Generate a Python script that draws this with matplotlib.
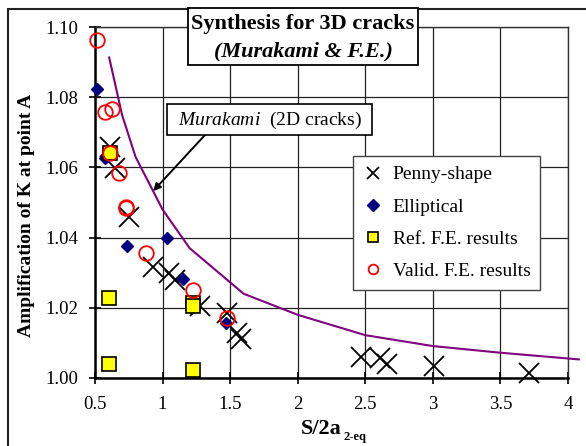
import numpy as np
import matplotlib
matplotlib.use("Agg")
import matplotlib.pyplot as plt
from matplotlib.patches import Rectangle
from matplotlib.lines import Line2D

plt.rcParams['font.family'] = ['Liberation Serif', 'DejaVu Serif']
plt.rcParams['mathtext.fontset'] = 'custom'
plt.rcParams['mathtext.rm'] = 'Liberation Serif'
plt.rcParams['mathtext.it'] = 'Liberation Serif:italic'
plt.rcParams['mathtext.bf'] = 'Liberation Serif:bold'

# Penny-shape cracks
penny_x = [0.61, 0.65, 0.75, 0.93, 1.045, 1.095, 1.28, 1.48, 1.55, 1.58,
           2.47, 2.61, 2.66, 3.01, 3.71]
penny_y = [1.0658, 1.0598, 1.046, 1.0315, 1.0298, 1.028, 1.0204, 1.0184, 1.0128, 1.0112,
           1.0061, 1.0056, 1.004, 1.0034, 1.0015]

# Elliptical cracks
ellip_x = [0.512, 0.574, 0.74, 1.032, 1.152, 1.471]
ellip_y = [1.0822, 1.0626, 1.0377, 1.0398, 1.0281, 1.0156]

# Reference F.E. results
ref_x = [0.611, 0.606, 0.606, 1.226, 1.226, 1.226]
ref_y = [1.064, 1.0227, 1.0039, 1.0215, 1.0205, 1.0023]

# Validation F.E. results
valid_x = [0.517, 0.574, 0.629, 0.611, 0.678, 0.73, 0.733, 0.879, 1.226, 1.478]
valid_y = [1.0963, 1.0759, 1.0765, 1.064, 1.0585, 1.0483, 1.0488, 1.0355, 1.0252, 1.0172]

# Murakami 2D solution
mur_x = [0.605, 0.7, 0.8, 1.0, 1.2, 1.6, 2.0, 2.5, 3.0, 3.5, 4.08]
mur_y = [1.0913, 1.075, 1.063, 1.048, 1.037, 1.024, 1.018, 1.0122, 1.0091, 1.0072, 1.0053]

xticks = [0.5, 1, 1.5, 2, 2.5, 3, 3.5, 4]
xtick_labels = ['0.5', '1', '1.5', '2', '2.5', '3', '3.5', '4']
yticks = [1.00, 1.02, 1.04, 1.06, 1.08, 1.10]

W, H = 586, 446
fig = plt.figure(figsize=(W / 100, H / 100), dpi=100)
ax = fig.add_axes([95 / W, 68 / H, 473 / W, 351 / H])


def px(x, y):
    # figure pixel (from top-left) -> figure fraction
    return x / W, 1 - y / H


ax.plot(mur_x, mur_y, color='#800080', lw=1.5, clip_on=False, zorder=3)
ax.plot(penny_x, penny_y, ls='none', marker='x', ms=14, mew=1.3, color='black',
        clip_on=False, zorder=4)
ax.plot(ellip_x, ellip_y, ls='none', marker='D', ms=6.5, color='#000080',
        clip_on=False, zorder=5)
ax.plot(ref_x, ref_y, ls='none', marker='s', ms=10, mfc='#ffff00', mec='black', mew=1.2,
        clip_on=False, zorder=6)
ax.plot(valid_x, valid_y, ls='none', marker='o', ms=10.5, mfc='none', mec='#ff0000', mew=1.3,
        clip_on=False, zorder=7)

ax.set_xlim(0.5, 4)
ax.set_ylim(1.00, 1.10)
ax.set_xticks(xticks)
ax.set_xticklabels(xtick_labels)
ax.set_yticks(yticks)
ax.set_yticklabels([f'{v:.2f}' for v in yticks])
ax.tick_params(direction='inout', length=8, width=1.2, labelsize=13.5, colors='black')
ax.tick_params(axis='y', pad=8)
ax.tick_params(axis='x', pad=9)
ax.grid(True, color='#222222', lw=0.9)
ax.set_axisbelow(True)
for side in ['left', 'bottom']:
    ax.spines[side].set_linewidth(1.8)
for side in ['top', 'right']:
    ax.spines[side].set_linewidth(1.0)
    ax.spines[side].set_color('#333333')

ax.set_ylabel('Amplification of K at point A', fontsize=14, fontweight='bold')
ax.yaxis.set_label_coords((35 - 95) / 473, (378 - 215) / 351)

# x label with subscript
fig.text(*px(342, 434), 'S/2a', fontsize=16, fontweight='bold', ha='right', va='baseline')
fig.text(*px(344, 440), '2-eq', fontsize=9, fontweight='bold', ha='left', va='baseline')

# legend with smaller markers
handles = [
    Line2D([], [], ls='none', marker='x', ms=9, mew=1.3, color='black'),
    Line2D([], [], ls='none', marker='D', ms=6.5, color='#000080'),
    Line2D([], [], ls='none', marker='s', ms=7, mfc='#ffff00', mec='black', mew=1.2),
    Line2D([], [], ls='none', marker='o', ms=7, mfc='none', mec='#ff0000', mew=1.3),
]
labels = ['Penny-shape', 'Elliptical', 'Ref. F.E. results', 'Valid. F.E. results']
leg = ax.legend(handles, labels, loc='upper left', bbox_to_anchor=px(353, 156),
                bbox_transform=fig.transFigure, fontsize=14, frameon=True, fancybox=False,
                framealpha=1, edgecolor='#444444', borderpad=0.5, labelspacing=0.75,
                handlelength=1.1, handletextpad=0.45, borderaxespad=0)
leg.get_frame().set_linewidth(1.0)

# title box
fig.add_artist(Rectangle(px(188, 65), 230 / W, 57 / H, transform=fig.transFigure,
                         fc='white', ec='black', lw=1.3, zorder=5))
fig.text(*px(303, 24), 'Synthesis for 3D cracks', fontsize=16, fontweight='bold',
         ha='center', va='center', zorder=6)
fig.text(*px(303, 51), '(Murakami & F.E.)', fontsize=16, fontweight='bold', style='italic',
         ha='center', va='center', zorder=6)

# Murakami label box with arrow to the curve
fig.add_artist(Rectangle(px(167, 135), 205 / W, 31 / H, transform=fig.transFigure,
                         fc='white', ec='black', lw=1.2, zorder=5))
fig.text(*px(270, 120), r'$\mathit{Murakami}$  (2D cracks)', fontsize=14,
         ha='center', va='center', zorder=6)
tip_x = 0.93
tip_y = np.interp(tip_x, mur_x, mur_y)
ax.annotate('', xy=(tip_x, tip_y), xycoords='data',
            xytext=(205, H - 135), textcoords='figure pixels',
            arrowprops=dict(arrowstyle='-|>', color='black', lw=1.4,
                            shrinkA=0, shrinkB=0, mutation_scale=11),
            zorder=8)

# chart area border
fig.add_artist(Rectangle(px(8, 470), 1.0, (470 - 9) / H, transform=fig.transFigure,
                         fill=False, ec='#222222', lw=1.5, zorder=0, clip_on=False))

fig.savefig('out.png', dpi=100)
